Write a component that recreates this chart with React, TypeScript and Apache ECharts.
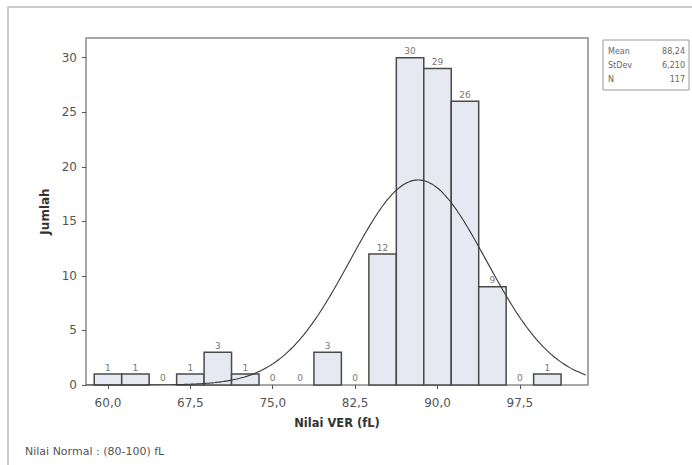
import React, { useEffect, useRef } from "react";
import * as echarts from "echarts";

// Histogram bins (centres, width 2.5) and counts
const binCenters = [60, 62.5, 65, 67.5, 70, 72.5, 75, 77.5, 80, 82.5, 85, 87.5, 90, 92.5, 95, 97.5, 100];
const binCounts = [1, 1, 0, 1, 3, 1, 0, 0, 3, 0, 12, 30, 29, 26, 9, 0, 1];
const binWidth = 2.5;

// Tick labels
const xTicks = [60, 67.5, 75, 82.5, 90, 97.5];
const yTicks = [0, 5, 10, 15, 20, 25, 30];

// Summary statistics shown in the legend box
const statLabels = ["Mean", "StDev", "N"];
const statValues = ["88,24", "6,210", "117"];
const MEAN = 88.24;
const SD = 6.21;
const N = 117;

const X_MIN = 58.0;
const X_MAX = 103.7;

export default function App() {
  const ref = useRef<HTMLDivElement>(null);
  useEffect(() => {
    if (!ref.current) return;
    const chart = echarts.init(ref.current, null, { renderer: "svg" });

    // Fitted normal curve from the stated mean / SD / N
    const curve: number[][] = [];
    for (let x = X_MIN; x <= X_MAX + 1e-9; x += 0.25) {
      const z = (x - MEAN) / SD;
      curve.push([x, (N * binWidth) / (SD * Math.sqrt(2 * Math.PI)) * Math.exp(-0.5 * z * z)]);
    }

    const font = "'DejaVu Sans', Verdana, sans-serif";

    chart.setOption({
      animation: false,
      backgroundColor: "#ffffff",
      grid: {
        left: 86,
        right: 104,
        top: 38,
        bottom: 80,
        show: true,
        borderColor: "#8a8a8a",
        borderWidth: 1.5,
        backgroundColor: "transparent",
      },
      xAxis: {
        type: "value",
        min: X_MIN,
        max: X_MAX,
        name: "Nilai VER (fL)",
        nameLocation: "middle",
        nameGap: 32,
        nameTextStyle: { fontFamily: font, fontWeight: "bold", fontSize: 11.5, color: "#333" },
        splitLine: { show: false },
        axisLine: { show: false },
        axisTick: { show: true, customValues: xTicks, length: 4, lineStyle: { color: "#555" } },
        axisLabel: {
          customValues: xTicks,
          formatter: (v: number) => v.toFixed(1).replace(".", ","),
          fontFamily: font,
          fontSize: 12,
          color: "#555",
          margin: 12,
        },
      },
      yAxis: {
        type: "value",
        min: 0,
        max: 31.8,
        name: "Jumlah",
        nameLocation: "middle",
        nameGap: 35,
        nameRotate: 90,
        nameTextStyle: { fontFamily: font, fontWeight: "bold", fontSize: 12, color: "#333" },
        splitLine: { show: false },
        axisLine: { show: false },
        axisTick: { show: true, customValues: yTicks, length: 4, lineStyle: { color: "#555" } },
        axisLabel: { customValues: yTicks, fontFamily: font, fontSize: 12, color: "#555", margin: 9 },
      },
      series: [
        {
          type: "custom",
          data: binCenters.map((c, i) => [c, binCounts[i]]),
          renderItem: (params: any, api: any) => {
            const c = api.value(0);
            const n = api.value(1);
            const p0 = api.coord([c - binWidth / 2, n]);
            const p1 = api.coord([c + binWidth / 2, 0]);
            const children: any[] = [];
            if (n > 0) {
              children.push({
                type: "rect",
                shape: { x: p0[0], y: p0[1], width: p1[0] - p0[0], height: p1[1] - p0[1] },
                style: { fill: "#e6e8f2", stroke: "#4a4a4a", lineWidth: 1.5 },
              });
            }
            children.push({
              type: "text",
              style: {
                x: (p0[0] + p1[0]) / 2,
                y: n > 0 ? p0[1] - 2 : p1[1] - 3,
                text: String(n),
                align: "center",
                verticalAlign: "bottom",
                fontFamily: font,
                fontSize: 9,
                fill: "#777",
              },
            });
            return { type: "group", children };
          },
          z: 2,
        },
        {
          type: "line",
          data: curve,
          smooth: true,
          showSymbol: false,
          symbol: "none",
          lineStyle: { color: "#3a3a3a", width: 1.1 },
          z: 3,
        },
      ],
      graphic: [
        {
          type: "rect",
          shape: { x: 8, y: 7, width: 700, height: 470 },
          style: { fill: "none", stroke: "#bdbdbd", lineWidth: 1.5 },
          silent: true,
        },
        {
          type: "rect",
          shape: { x: 603, y: 40, width: 86, height: 50 },
          style: { fill: "#fff", stroke: "#9a9a9a", lineWidth: 1 },
        },
        ...statLabels.map((s, i) => ({
          type: "text",
          style: {
            x: 608,
            y: 51 + i * 14,
            text: s,
            fontFamily: font,
            fontSize: 8,
            fill: "#666",
            verticalAlign: "middle",
          },
        })),
        ...statValues.map((s, i) => ({
          type: "text",
          style: {
            x: 685,
            y: 51 + i * 14,
            text: s,
            align: "right",
            fontFamily: font,
            fontSize: 8,
            fill: "#666",
            verticalAlign: "middle",
          },
        })),
        {
          type: "text",
          style: {
            x: 25,
            y: 451,
            text: "Nilai Normal : (80-100) fL",
            fontFamily: font,
            fontSize: 11,
            fill: "#555",
            verticalAlign: "middle",
          },
        },
      ],
    });
    return () => chart.dispose();
  }, []);
  return <div ref={ref} style={{ width: 692, height: 465, position: "absolute", left: 0, top: 0 }} />;
}
